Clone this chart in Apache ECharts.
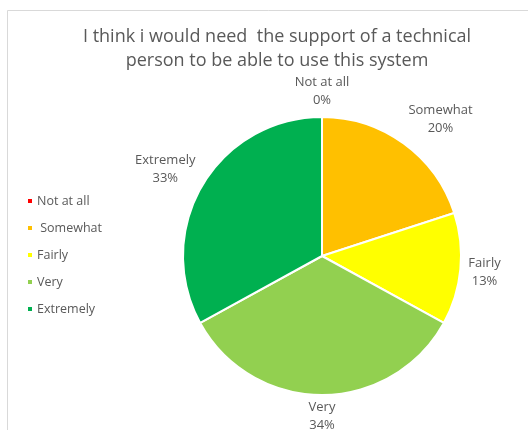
<!DOCTYPE html>
<html>
<head>
<meta charset="utf-8">
<script src="https://cdn.jsdelivr.net/npm/echarts@6/dist/echarts.min.js"></script>
<style>
  html, body { margin: 0; padding: 0; background: #fff; }
  #chart { width: 528px; height: 430px; }
</style>
</head>
<body>
<div id="chart"></div>
<script>
// Survey answers, in order clockwise from 12 o'clock
const categories = ['Not at all', ' Somewhat', 'Fairly', 'Very', 'Extremely'];
const percents = [0, 20, 13, 34, 33];
const colors = ['#FF0000', '#FFC000', '#FFFF00', '#92D050', '#00B050'];
const titleText = 'I think i would need  the support of a technical\nperson to be able to use this system';

// Pie geometry
const CX = 322, CY = 256, R = 139;
const LABEL_GAP = 8;

const total = percents.reduce((a, b) => a + b, 0);
const midAngles = [];
let acc = 0;
percents.forEach(v => {
  midAngles.push(((acc + v / 2) / total) * Math.PI * 2);
  acc += v;
});

const clamp = v => Math.max(-1, Math.min(1, v));

const chart = echarts.init(document.getElementById('chart'), null, { renderer: 'canvas' });
const H = chart.getHeight();

chart.setOption({
  animation: false,
  backgroundColor: '#ffffff',
  graphic: [{
    type: 'rect',
    shape: { x: 7.5, y: 10.5, width: 540, height: 440 },
    style: { fill: 'none', stroke: '#D9D9D9', lineWidth: 1 },
    silent: true
  }],
  title: {
    text: titleText,
    left: 272,
    textAlign: 'center',
    top: 20,
    textStyle: {
      fontFamily: 'Open Sans',
      fontSize: 18,
      fontWeight: 'normal',
      color: '#595959',
      lineHeight: 24
    }
  },
  legend: {
    orient: 'vertical',
    left: 26,
    top: 194,
    padding: 0,
    itemWidth: 6,
    itemHeight: 6,
    itemGap: 13,
    icon: 'rect',
    selectedMode: false,
    data: categories,
    textStyle: {
      fontFamily: 'Open Sans',
      fontSize: 12.5,
      color: '#595959',
      lineHeight: 14,
      padding: [0, 0, 0, -1]
    }
  },
  series: [{
    type: 'pie',
    center: [CX, CY],
    radius: R,
    startAngle: 90,
    clockwise: true,
    avoidLabelOverlap: false,
    itemStyle: { borderColor: '#ffffff', borderWidth: 2 },
    emphasis: { disabled: true },
    labelLine: { show: false },
    label: {
      show: true,
      position: 'outside',
      fontFamily: 'Open Sans',
      fontSize: 13,
      lineHeight: 18,
      color: '#595959',
      formatter: p => p.name.trim() + '\n' + p.value + '%'
    },
    // Anchor each label just outside the rim at its slice's mid-angle,
    // pushing the text box away from the pie on the side it sits,
    // and keep it inside the canvas.
    labelLayout: function (params) {
      const i = params.dataIndex;
      const a = midAngles[i];
      const ux = Math.sin(a), uy = -Math.cos(a);
      const w = params.labelRect.width, h = params.labelRect.height;
      const px = CX + ux * (R + LABEL_GAP);
      const py = CY + uy * (R + LABEL_GAP);
      let y = py + clamp(uy * 1.25) * h / 2;
      y = Math.min(y, H - h / 2 + 4);
      return {
        x: px + clamp(ux * 2.5) * w / 2,
        y: y,
        align: 'center',
        verticalAlign: 'middle'
      };
    },
    data: categories.map((c, i) => ({
      name: c,
      value: percents[i],
      itemStyle: { color: colors[i] }
    }))
  }]
});
</script>
</body>
</html>
